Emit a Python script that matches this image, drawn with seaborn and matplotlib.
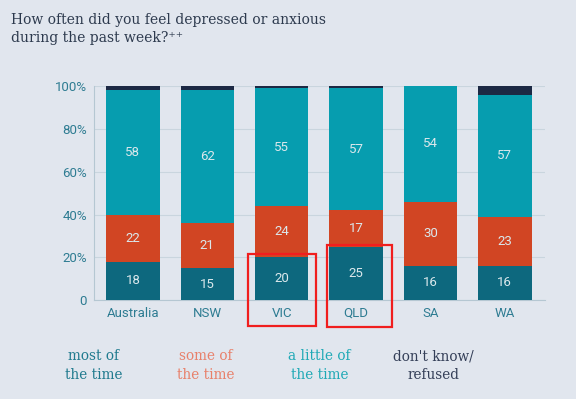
import numpy as np
import pandas as pd
import seaborn as sns
from matplotlib import pyplot as plt
from matplotlib.patches import Rectangle

regions = ['Australia', 'NSW', 'VIC', 'QLD', 'SA', 'WA']
most_of_time = [18, 15, 20, 25, 16, 16]
some_of_time = [22, 21, 24, 17, 30, 23]
little_of_time = [58, 62, 55, 57, 54, 57]
dont_know = [2, 2, 1, 1, 0, 4]

series_names = ['most of\nthe time', 'some of\nthe time', 'a little of\nthe time', "don't know/\nrefused"]
bar_colors = ['#0d687e', '#d14523', '#069daf', '#1c2944']
legend_colors = ['#1f7a8e', '#e8806a', '#1fa9b6', '#343f58']
bg = '#e1e6ee'

df = pd.DataFrame({'region': regions, 'most': most_of_time, 'some': some_of_time,
                   'little': little_of_time, 'dk': dont_know})
cols = ['most', 'some', 'little', 'dk']
cum = df[cols].cumsum(axis=1)

sns.set_style('white')
plt.rcParams['font.family'] = ['Roboto', 'DejaVu Sans']

fig = plt.figure(figsize=(5.76, 3.99), dpi=100, facecolor=bg)
ax = fig.add_axes([0.163, 0.248, 0.783, 0.536])
ax.set_facecolor(bg)

# layered cumulative bars, tallest first
for col, color in reversed(list(zip(cols, bar_colors))):
    sns.barplot(x=df['region'], y=cum[col], color=color, width=0.72,
                saturation=1, ax=ax, zorder=3, linewidth=0)

for i in range(len(regions)):
    lower = 0
    for col in cols[:3]:
        v = df.loc[i, col]
        ax.text(i, lower + v / 2, str(v), ha='center', va='center',
                color='#dbe8ec', fontsize=9.5, zorder=4)
        lower += v

ax.set_xlim(-0.525, 5.54)
ax.set_ylim(0, 100)
ax.set_yticks([0, 20, 40, 60, 80, 100])
ax.set_yticklabels(['0', '20%', '40%', '60%', '80%', '100%'])
ax.set_xlabel('')
ax.set_ylabel('')
ax.grid(axis='y', color='#c9d5de', linewidth=0.8, zorder=0)
for s in ['top', 'right']:
    ax.spines[s].set_visible(False)
for s in ['left', 'bottom']:
    ax.spines[s].set_color('#b5c7d2')
    ax.spines[s].set_linewidth(0.8)
ax.tick_params(axis='both', colors='#2e7c92', labelsize=9.5, length=0, pad=5)
ax.set_xticks(np.arange(len(regions)) + 0.5, minor=True)
ax.tick_params(axis='x', which='minor', length=3, color='#b5c7d2')

fig.text(0.019, 0.968, 'How often did you feel depressed or anxious\nduring the past week?\u207a\u207a',
         ha='left', va='top', fontsize=10, color='#2d3a4e',
         family=['DejaVu Serif'], linespacing=1.35)

leg_x = [0.162, 0.358, 0.555, 0.752]
for x, name, c in zip(leg_x, series_names, legend_colors):
    fig.text(x, 0.125, name, ha='center', va='top', fontsize=9.8, color=c,
             family=['DejaVu Serif'], linespacing=1.4)

# red highlight boxes
ax.add_patch(Rectangle((1.546, -12.1), 0.914, 33.6, fill=False, edgecolor='#f01e1e',
                       linewidth=1.6, clip_on=False, zorder=5))
ax.add_patch(Rectangle((2.61, -12.6), 0.87, 38.3, fill=False, edgecolor='#f01e1e',
                       linewidth=1.6, clip_on=False, zorder=5))

fig.savefig('out.png', dpi=100, facecolor=bg)
